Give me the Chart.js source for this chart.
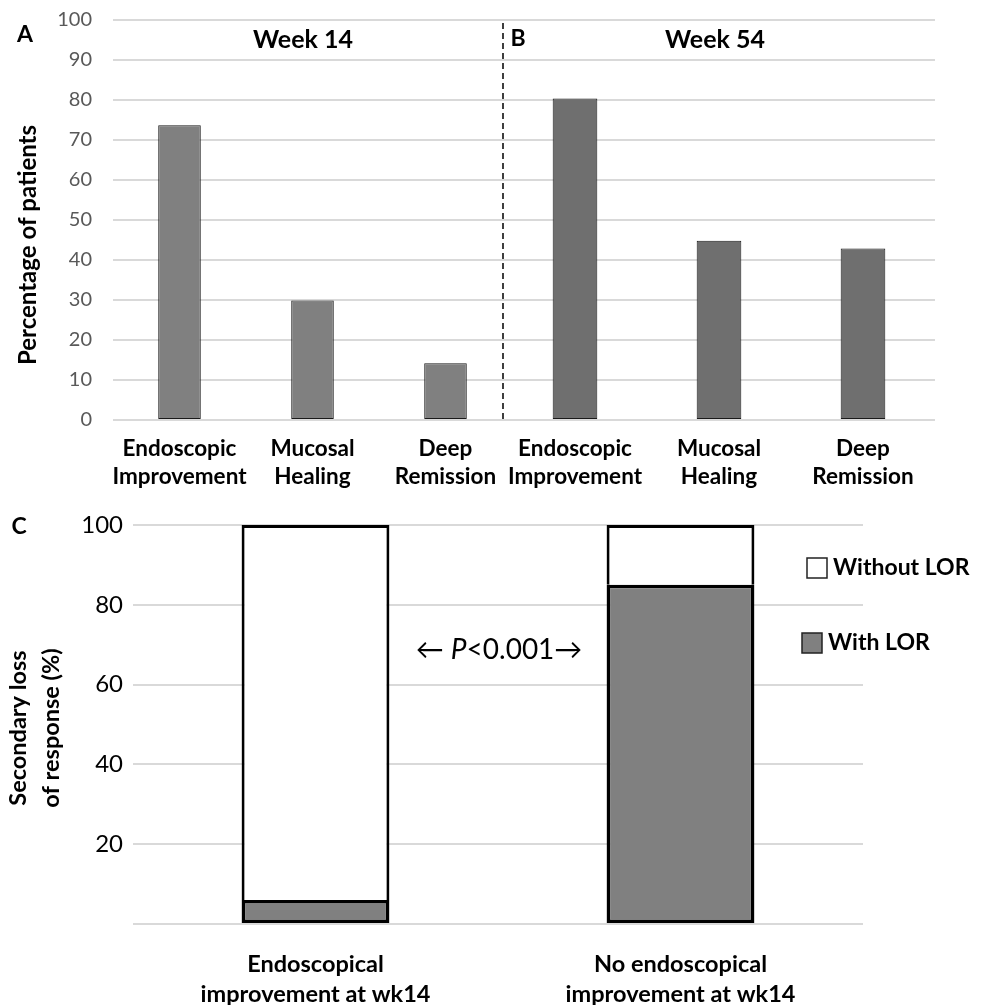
<!DOCTYPE html>
<html>
<head>
<meta charset="utf-8">
<script src="https://cdn.jsdelivr.net/npm/chart.js@4/dist/chart.umd.min.js"></script>
<style>
  body { margin: 0; background: #fff; }
  #page { position: relative; width: 983px; height: 1005px; }
  .box { position: absolute; }
</style>
</head>
<body>
<div id="page">
  <div class="box" style="left: 0; top: 0; width: 515px; height: 500px;"><canvas id="chartA"></canvas></div>
  <div class="box" style="left: 500px; top: 0; width: 483px; height: 500px;"><canvas id="chartB"></canvas></div>
  <div class="box" style="left: 0; top: 500px; width: 983px; height: 505px;"><canvas id="chartC"></canvas></div>
</div>
<script>
// panels A and B
const outcomeLabels = [['Endoscopic', 'Improvement'], ['Mucosal', 'Healing'], ['Deep', 'Remission']]
const week14Values = [73.7, 29.9, 14.2]
const week54Values = [80.4, 44.8, 42.9]
const percentTicks = [0, 10, 20, 30, 40, 50, 60, 70, 80, 90, 100]

// panel C
const lorGroups = [['Endoscopical', 'improvement at wk14'], ['No endoscopical', 'improvement at wk14']]
const withLor = [6, 85]
const withoutLor = [94, 15]
const lorTicks = [20, 40, 60, 80, 100]

const FONT = 'Lato'
const GRID = '#d9d9d9'

function text (ctx, str, x, y, font, color = '#000', align = 'center') {
  ctx.save()
  ctx.font = font
  ctx.fillStyle = color
  ctx.textAlign = align
  ctx.textBaseline = 'middle'
  ctx.fillText(str, x, y)
  ctx.restore()
}

function vtext (ctx, str, x, y, font) {
  ctx.save()
  ctx.translate(x, y)
  ctx.rotate(-Math.PI / 2)
  text(ctx, str, 0, 0, font)
  ctx.restore()
}

function topOptions (showAxis, padLeft, padRight) {
  return {
    responsive: true,
    maintainAspectRatio: false,
    animation: false,
    layout: { padding: { top: 20, left: padLeft, right: padRight, bottom: 0 } },
    plugins: { legend: { display: false }, tooltip: { enabled: false } },
    scales: {
      x: {
        grid: { display: false },
        border: { display: false },
        ticks: { color: '#000', font: { family: FONT, size: 22.5, weight: 'bold', lineHeight: 1.25 }, padding: 7, maxRotation: 0, autoSkip: false },
        afterFit: (s) => { s.height = 80 }
      },
      y: {
        min: 0,
        max: 100,
        afterBuildTicks: (s) => { s.ticks = percentTicks.map((v) => ({ value: v })) },
        grid: { color: GRID, lineWidth: 2, drawTicks: false },
        border: { display: false },
        ticks: { display: showAxis, color: '#595959', font: { family: FONT, size: 20 }, padding: 21 },
        afterFit: (s) => {
          // keep the plot area where the layout padding puts it
          s.width = showAxis ? 113 : 0
          s.paddingTop = 0
          s.paddingBottom = 0
        }
      }
    }
  }
}

new Chart(document.getElementById('chartA'), {
  type: 'bar',
  data: {
    labels: outcomeLabels,
    datasets: [{
      data: week14Values,
      backgroundColor: '#808080',
      borderColor: '#1a1a1a',
      borderWidth: 1,
      borderSkipped: false,
      categoryPercentage: 1,
      barPercentage: 0.32
    }]
  },
  options: topOptions(true, 0, 3),
  plugins: [{
    id: 'panelA',
    afterDraw (chart) {
      const ctx = chart.ctx
      text(ctx, 'A', 25, 35, `bold 23px ${FONT}`)
      text(ctx, 'Week 14', 303, 40, `bold 25px ${FONT}`)
      vtext(ctx, 'Percentage of patients', 28, 245, `bold 24px ${FONT}`)
    }
  }]
})

new Chart(document.getElementById('chartB'), {
  type: 'bar',
  data: {
    labels: outcomeLabels,
    datasets: [{
      data: week54Values,
      backgroundColor: '#6f6f6f',
      borderColor: '#1a1a1a',
      borderWidth: 1,
      borderSkipped: false,
      categoryPercentage: 1,
      barPercentage: 0.31
    }]
  },
  options: topOptions(false, 3, 48),
  plugins: [{
    id: 'panelB',
    afterDraw (chart) {
      const ctx = chart.ctx
      const { left, top, bottom } = chart.chartArea
      ctx.save()
      ctx.strokeStyle = '#000'
      ctx.lineWidth = 1.5
      ctx.setLineDash([6, 4])
      ctx.beginPath()
      ctx.moveTo(left, top + 3)
      ctx.lineTo(left, bottom + 2)
      ctx.stroke()
      ctx.restore()
      text(ctx, 'B', 18, 39, `bold 23px ${FONT}`)
      text(ctx, 'Week 54', 215, 40, `bold 25px ${FONT}`)
    }
  }]
})

new Chart(document.getElementById('chartC'), {
  type: 'bar',
  data: {
    labels: lorGroups,
    datasets: [
      { label: 'With LOR', data: withLor, backgroundColor: '#808080', borderColor: '#000', borderWidth: 3.5, borderSkipped: false },
      { label: 'Without LOR', data: withoutLor, backgroundColor: '#fff', borderColor: '#000', borderWidth: 3, borderSkipped: 'start' }
    ]
  },
  options: {
    responsive: true,
    maintainAspectRatio: false,
    animation: false,
    datasets: { bar: { categoryPercentage: 1, barPercentage: 0.405 } },
    layout: { padding: { top: 25, left: 0, right: 120, bottom: 0 } },
    plugins: { legend: { display: false }, tooltip: { enabled: false } },
    scales: {
      x: {
        stacked: true,
        grid: { display: false },
        border: { display: false },
        ticks: { color: '#000', font: { family: FONT, size: 23.5, weight: 'bold', lineHeight: 1.28 }, padding: 17, maxRotation: 0, autoSkip: false },
        afterFit: (s) => { s.height = 81 }
      },
      y: {
        stacked: true,
        min: 0,
        max: 100,
        afterBuildTicks: (s) => { s.ticks = [0].concat(lorTicks).map((v) => ({ value: v })) },
        grid: { color: GRID, lineWidth: 2, drawTicks: false },
        border: { display: false },
        ticks: {
          color: '#000',
          font: { family: FONT, size: 24 },
          padding: 10,
          callback: (v) => lorTicks.includes(v) ? v : ''
        },
        afterFit: (s) => {
          s.width = 133
          s.paddingTop = 0
          s.paddingBottom = 0
        }
      }
    }
  },
  plugins: [{
    id: 'panelC',
    afterDraw (chart) {
      const ctx = chart.ctx
      text(ctx, 'C', 19, 27, `bold 23px ${FONT}`)
      vtext(ctx, 'Secondary loss', 18, 228, `bold 23.5px ${FONT}`)
      vtext(ctx, 'of response (%)', 51, 228, `bold 23.5px ${FONT}`)

      // P value annotation
      const parts = [
        { s: '\u2190 ', f: `28px ${FONT}` },
        { s: 'P', f: `italic 28px ${FONT}` },
        { s: '<0.001\u2192', f: `28px ${FONT}` }
      ]
      ctx.save()
      let total = 0
      parts.forEach((p) => { ctx.font = p.f; p.w = ctx.measureText(p.s).width; total += p.w })
      ctx.restore()
      let x = 499 - total / 2
      parts.forEach((p) => { text(ctx, p.s, x, 150, p.f, '#000', 'left'); x += p.w })

      // legend
      const items = [
        { label: 'Without LOR', color: '#fff', x: 807, y: 68 },
        { label: 'With LOR', color: '#808080', x: 802, y: 143 }
      ]
      items.forEach((it) => {
        ctx.save()
        ctx.fillStyle = it.color
        ctx.strokeStyle = '#222'
        ctx.lineWidth = 1.5
        ctx.fillRect(it.x, it.y - 10, 20, 20)
        ctx.strokeRect(it.x, it.y - 10, 20, 20)
        ctx.restore()
        text(ctx, it.label, it.x + 26, it.y, `bold 23px ${FONT}`, '#000', 'left')
      })
    }
  }]
})
</script>
</body>
</html>
